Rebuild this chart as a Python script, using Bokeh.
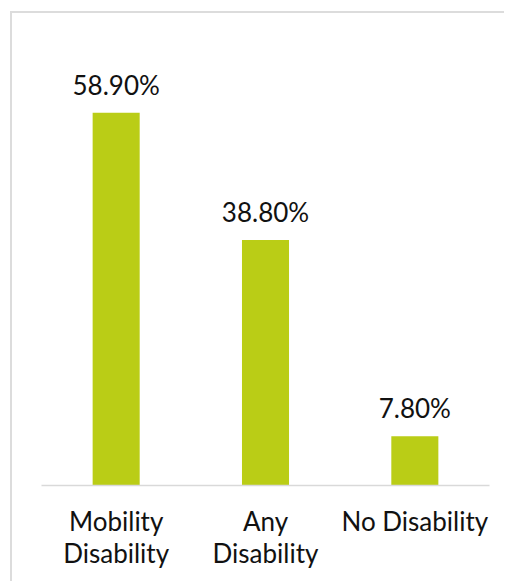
from bokeh.plotting import figure
from bokeh.models import ColumnDataSource, Range1d
from bokeh.core.properties import value
from bokeh.embed import file_html
from bokeh.resources import INLINE

categories = ["Mobility\nDisability", "Any\nDisability", "No Disability"]
values = [58.9, 38.8, 7.8]
labels = [f"{v:.2f}%" for v in values]

FONT = "Lato"
BAR = "#BACD16"

src = ColumnDataSource(dict(cat=categories, val=values, lab=labels))

p = figure(x_range=categories, y_range=Range1d(0, 70), width=494, height=570,
           output_backend="svg", toolbar_location=None,
           min_border_left=29, min_border_right=17, min_border_top=29, min_border_bottom=98)
p.styles = {"margin-left": "10px", "margin-top": "11px",
            "border-top": "2px solid #dcdcdc", "border-left": "2px solid #dcdcdc"}
p.border_fill_color = None
p.background_fill_color = None
p.vbar(x="cat", top="val", width=0.315, source=src, color=BAR, line_color=None)
p.text(x="cat", y="val", text="lab", source=src, y_offset=-28,
       text_align="center", text_baseline="alphabetic",
       text_font=value(FONT), text_font_size="26px", text_color="#111111")

p.yaxis.visible = False
p.xgrid.visible = False
p.ygrid.visible = False
p.outline_line_color = None
p.xaxis.axis_line_color = "#d9d9d9"
p.xaxis.axis_line_width = 1.5
p.xaxis.major_tick_line_color = None
p.xaxis.minor_tick_line_color = None
p.xaxis.major_label_text_font = FONT
p.xaxis.major_label_text_font_size = "26px"
p.xaxis.major_label_text_color = "#111111"
p.xaxis.major_label_text_line_height = 1.0
p.xaxis.major_label_standoff = 13
p.x_range.range_padding = 0

open("out.html", "w").write(file_html(p, INLINE))
